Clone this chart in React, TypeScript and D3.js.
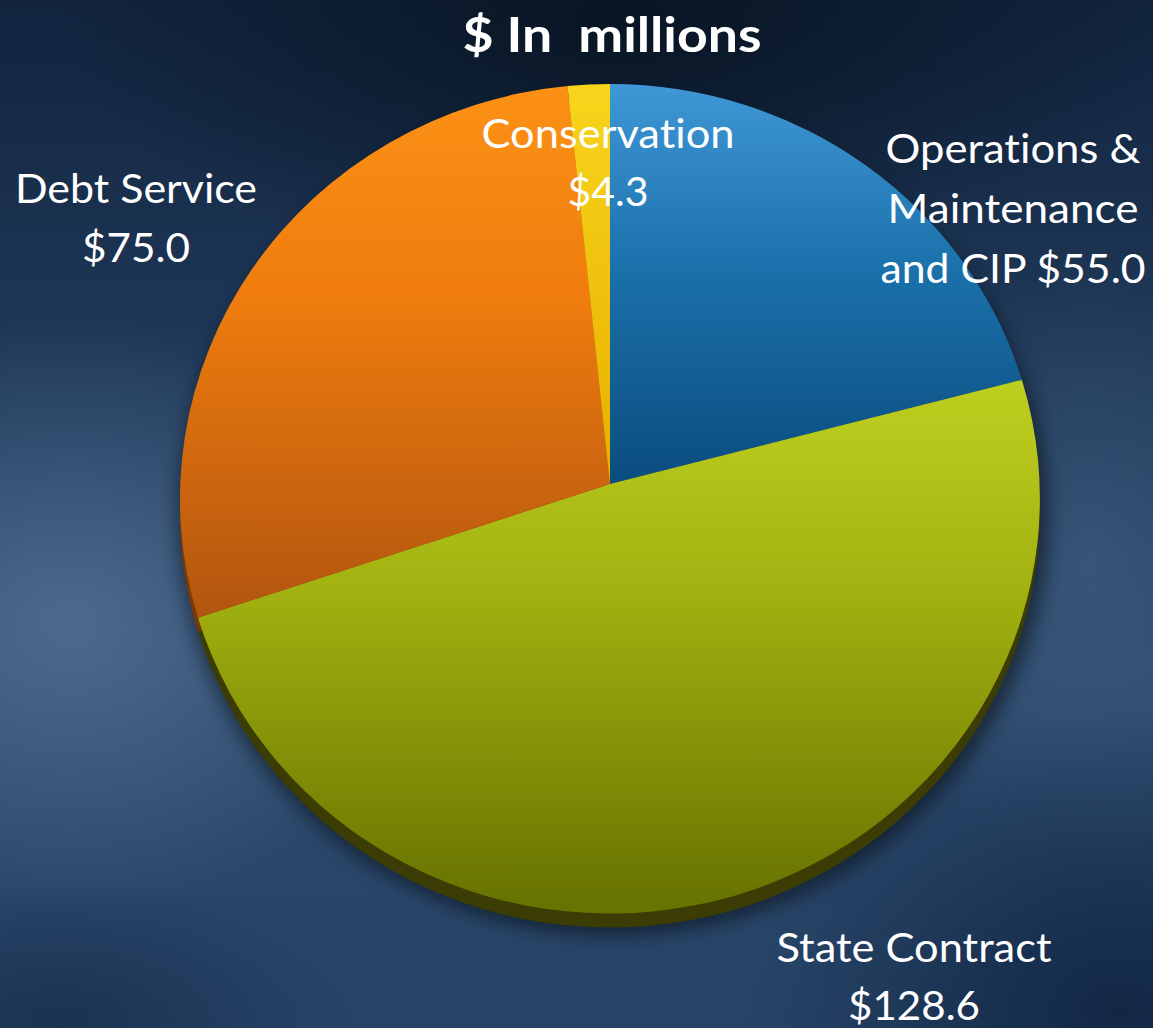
import React, { useEffect } from "react";
import * as d3 from "d3";

const categories = ["Operations & Maintenance and CIP", "State Contract", "Debt Service", "Conservation"];
const values = [55.0, 128.6, 75.0, 4.3];
const labelLines = [
  ["Operations &", "Maintenance", "and CIP $55.0"],
  ["State Contract", "$128.6"],
  ["Debt Service", "$75.0"],
  ["Conservation", "$4.3"],
];
const faceStops = [
  [["0", "#3f97d6"], ["0.22", "#1b71ab"], ["0.48", "#0b4d7f"]],
  [["0.36", "#bfcf20"], ["0.62", "#a0b010"], ["0.98", "#687400"]],
  [["0.02", "#fb9014"], ["0.26", "#ef7c0e"], ["0.65", "#b0540f"]],
  [["0", "#f8d51c"], ["0.45", "#e8b200"]],
];
const rimColors = ["#0a3a60", "#3c3d05", "#7a3a08", "#9a7a00"];
const title = "$ In  millions";

const W = 1153, H = 1028;
const cx = 610, cy = 499, rx = 430, ry = 415, apexY = 484, depth = 14;
// perspective shift of the apex relative to the ellipse centre (normalised)
const beta = (apexY - cy) / ry;

// label layout: [x center, first baseline, line step, widths]
const labelLayout = [
  { x: 1013, y: 163, step: 60, widths: [255, 251, 265] },
  { x: 914, y: 962, step: 58, widths: [275, 132] },
  { x: 136, y: 203, step: 59, widths: [242, 108] },
  { x: 608, y: 148, step: 58, widths: [253, 81] },
];

function pt(a: number, dy = 0): [number, number] {
  const u = Math.sin(a);
  const v = -Math.cos(a);
  const den = 1 + beta * v;
  const u2 = (u * Math.sqrt(1 - beta * beta)) / den;
  const v2 = (v + beta) / den;
  return [cx + rx * u2, cy + ry * v2 + dy];
}

function slicePath(a0: number, a1: number, dy = 0) {
  const p0 = pt(a0, dy), p1 = pt(a1, dy);
  const [, y0] = p0;
  const large = a1 - a0 > Math.PI ? 1 : 0;
  void y0;
  return `M${cx},${apexY + dy}L${p0[0]},${p0[1]}A${rx},${ry} 0 ${large} 1 ${p1[0]},${p1[1]}Z`;
}

export default function App() {
  useEffect(() => {
    document.body.style.margin = "0";
  }, []);
  const arcs = d3.pie<number>().sort(null).value((d) => d)(values);
  const font = "Lato, 'Open Sans', sans-serif";
  return (
    <svg width={W} height={H} viewBox={`0 0 ${W} ${H}`} style={{ display: "block" }}>
      <defs>
        <linearGradient id="bg" x1="0" y1="0" x2="0" y2="1">
          <stop offset="0" stopColor="#12243e" />
          <stop offset="0.3" stopColor="#1d3655" />
          <stop offset="0.65" stopColor="#2c4a6c" />
          <stop offset="1" stopColor="#274467" />
        </linearGradient>
        <radialGradient id="hl" cx="0.5" cy="0.5" r="0.5">
          <stop offset="0" stopColor="#56769a" stopOpacity="0.75" />
          <stop offset="1" stopColor="#56769a" stopOpacity="0" />
        </radialGradient>
        <radialGradient id="dk" cx="0.5" cy="0.5" r="0.5">
          <stop offset="0" stopColor="#07121f" stopOpacity="0.85" />
          <stop offset="1" stopColor="#07121f" stopOpacity="0" />
        </radialGradient>
        <radialGradient id="dk2" cx="0.5" cy="0.5" r="0.5">
          <stop offset="0" stopColor="#0c203c" stopOpacity="0.8" />
          <stop offset="1" stopColor="#0c203c" stopOpacity="0" />
        </radialGradient>
        <filter id="blur" x="-20%" y="-20%" width="140%" height="140%">
          <feGaussianBlur stdDeviation="9" />
        </filter>
        {faceStops.map((stops, i) => (
          <linearGradient key={i} id={`face${i}`} gradientUnits="userSpaceOnUse" x1="0" y1={cy - ry} x2="0" y2={cy + ry}>
            {stops.map(([o, c], j) => (
              <stop key={j} offset={o} stopColor={c} />
            ))}
          </linearGradient>
        ))}
      </defs>
      <rect x={0} y={0} width={W} height={H} fill="url(#bg)" />
      <ellipse cx={70} cy={620} rx={360} ry={300} fill="url(#hl)" />
      <ellipse cx={1090} cy={560} rx={220} ry={300} fill="url(#hl)" opacity={0.45} />
      <ellipse cx={620} cy={20} rx={560} ry={260} fill="url(#dk)" />
      <ellipse cx={1120} cy={1010} rx={380} ry={300} fill="url(#dk2)" />
      <ellipse cx={60} cy={1020} rx={300} ry={150} fill="url(#dk2)" opacity={0.6} />
      {/* pie shadow */}
      <ellipse cx={cx + 3} cy={cy + depth + 4} rx={rx + 6} ry={ry + 4} fill="#000" opacity={0.45} filter="url(#blur)" />
      {/* pie depth */}
      {arcs.map((a, i) => (
        <path key={`rim${i}`} d={slicePath(a.startAngle, a.endAngle, depth)} fill={rimColors[i]} />
      ))}
      {/* faces */}
      {arcs.map((a, i) => (
        <path key={`face${i}`} d={slicePath(a.startAngle, a.endAngle)} fill={`url(#face${i})`} />
      ))}
      <text x={612} y={52} textAnchor="middle" fill="#fff" fontFamily={font} fontWeight="bold" fontSize={48} textLength={299} lengthAdjust="spacingAndGlyphs" style={{ whiteSpace: "pre", fontVariantLigatures: "none" }}>
        {title}
      </text>
      {labelLines.map((lines, i) =>
        lines.map((line, j) => (
          <text
            key={`l${i}-${j}`}
            x={labelLayout[i].x}
            y={labelLayout[i].y + j * labelLayout[i].step}
            textAnchor="middle"
            fill="#fff"
            fontFamily={font}
            fontSize={40}
            textLength={labelLayout[i].widths[j]}
            lengthAdjust="spacingAndGlyphs"
            style={{ fontVariantLigatures: "none" }}
          >
            {line}
          </text>
        ))
      )}
    </svg>
  );
}
